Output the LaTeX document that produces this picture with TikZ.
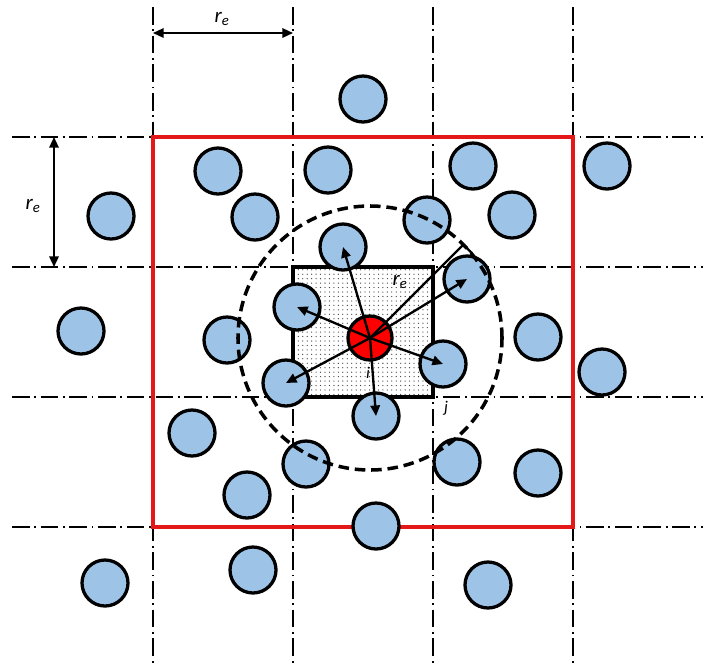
\documentclass[tikz,border=0pt]{standalone}
\usepackage{fontspec}
\setmainfont{Carlito}
\usetikzlibrary{arrows.meta,patterns.meta}
\definecolor{ballblue}{RGB}{157,195,230}
\definecolor{cellred}{RGB}{228,24,24}

\begin{document}
\begin{tikzpicture}[x=0.03cm,y=-0.03cm,font=\fontsize{18}{20}\selectfont\itshape,
    grid/.style={line width=1.4pt,dash pattern=on 15pt off 4pt on 1.5pt off 4pt},
    ball/.style={circle,draw,line width=2.8pt,fill=ballblue,minimum size=1.38cm,inner sep=0pt},
    ray/.style={line width=2pt,-{Triangle[length=9pt,width=8pt]}},
    dim/.style={line width=1.5pt,{Triangle[length=9pt,width=8pt]}-{Triangle[length=9pt,width=8pt]}}]
  \useasboundingbox (0,0) rectangle (703,666);
  % cutoff grid
  \foreach \x in {153,293,433,573}
    \draw[grid] (\x,7) -- (\x,666);
  \foreach \y in {137,267,397,527}
    \draw[grid] (12,\y) -- (703,\y);
  \draw[cellred,line width=3pt] (153,137) rectangle (573,527);
  \draw[line width=3.2pt,pattern={Dots[distance=3.8pt,radius=0.55pt]},pattern color=black!75] (293,267) rectangle (433,397);
  % particles
  \foreach \x/\y/\n in {363/99/o1, 218/171/o2, 328/170/o3, 473/166/o4, 607/166/o5,
      111/216/o6, 255/217/o7, 427/220/o8, 512/215/o9, 81/331/o10, 227/340/o11,
      538/337/o12, 602/372/o13, 192/433/o14, 306/464/o15, 457/462/o16, 538/473/o17,
      247/495/o18, 376/526/o19, 105/583/o20, 253/570/o21, 488/585/o22,
      343/247/nb1, 467/279/nb2, 297/307/nb3, 443/364/nb4, 286/383/nb5, 376/416/nb6}
    \node[ball] (\n) at (\x,\y) {};
  \draw[line width=3pt,dash pattern=on 9pt off 5pt] (370,338) circle[radius=3.96cm];
  \node[ball,fill=red,minimum size=1.32cm] (src) at (370,338) {};
  % neighbours within r_e
  \foreach \n in {nb1,nb2,nb3,nb4,nb5,nb6}
    \draw[ray] (src.center) -- (\n.center);
  \draw[line width=2pt] (src.center) -- ++(45:3.96cm) coordinate (rend) -- ++(-45:0.36cm);
  \node (lre) at (400,282) {r\textsubscript{e}};
  \node[font=\fontsize{14}{16}\selectfont\itshape] (li) at (368,373) {i};
  \node[font=\fontsize{14}{16}\selectfont\itshape] (lj) at (446,408) {j};
  % cell size
  \coordinate (hx1) at (153,33); \coordinate (hx2) at (293,33);
  \coordinate (vy1) at (54,137); \coordinate (vy2) at (54,267);
  \draw[dim] (hx1) -- (hx2);
  \draw[dim] (vy1) -- (vy2);
  \node (lrx) at (222,19) {r\textsubscript{e}};
  \node (lry) at (33,206) {r\textsubscript{e}};
\end{tikzpicture}
\end{document}
